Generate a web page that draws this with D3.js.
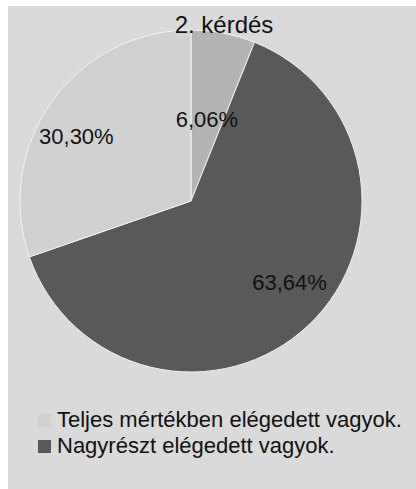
<!DOCTYPE html>
<html>
<head>
<meta charset="utf-8">
<script src="https://cdn.jsdelivr.net/npm/d3@7"></script>
<style>
  body { margin: 0; background: #fff; }
  text { font-family: "Liberation Sans", Arial, sans-serif; fill: #111; }
</style>
</head>
<body>
<svg id="chart" width="416" height="489"></svg>
<script>
/* Data */
var title = '2. kérdés';
var categories = ['Teljesen elégedett', 'Nagyrészt elégedett vagyok.', 'Teljes mértékben elégedett vagyok.'];
var values = [6.06, 63.64, 30.30];
var labels = ['6,06%', '63,64%', '30,30%'];
var colors = ['#b4b4b4', '#595959', '#d1d1d1'];

// legend shows only the two visible entries, in this order
var legendItems = [2, 1];

/* Layout */
var svg = d3.select('#chart');
var cx = 191, cy = 201, radius = 171;
var labelFactor = [0.49, 0.745, 0.77];
var labelShift = [0, -7, -6]; // degrees, best-fit nudge like the original

svg.append('rect')
    .attr('x', 8).attr('y', 6)
    .attr('width', 408).attr('height', 483)
    .attr('fill', '#dadada');

var pie = d3.pie().sort(null).value(function (d) { return d; });
var arcs = pie(values);
var arc = d3.arc().innerRadius(0).outerRadius(radius);

var g = svg.append('g').attr('transform', 'translate(' + cx + ',' + cy + ')');

g.selectAll('path.slice')
    .data(arcs)
    .enter()
    .append('path')
    .attr('class', 'slice')
    .attr('d', arc)
    .attr('fill', function (d, i) { return colors[i]; })
    .attr('stroke', '#f2f2f2')
    .attr('stroke-width', 1);

g.selectAll('text.lbl')
    .data(arcs)
    .enter()
    .append('text')
    .attr('class', 'lbl')
    .attr('transform', function (d, i) {
        var r = radius * labelFactor[i];
        var a = (d.startAngle + d.endAngle) / 2 + labelShift[i] * Math.PI / 180;
        return 'translate(' + (r * Math.sin(a)) + ',' + (-r * Math.cos(a)) + ')';
    })
    .attr('text-anchor', 'middle')
    .attr('dy', '0.36em')
    .style('font-size', '22px')
    .text(function (d, i) { return labels[i]; });

svg.append('text')
    .attr('x', 224).attr('y', 33)
    .attr('text-anchor', 'middle')
    .style('font-size', '24px')
    .text(title);

var legend = svg.selectAll('g.legend')
    .data(legendItems)
    .enter()
    .append('g')
    .attr('class', 'legend')
    .attr('transform', function (d, i) { return 'translate(38,' + (414 + i * 26) + ')'; });

legend.append('rect')
    .attr('width', 13).attr('height', 13)
    .attr('fill', function (d) { return colors[d]; });

legend.append('text')
    .attr('x', 19).attr('y', 13)
    .style('font-size', '22px')
    .text(function (d) { return categories[d]; });
</script>
</body>
</html>
